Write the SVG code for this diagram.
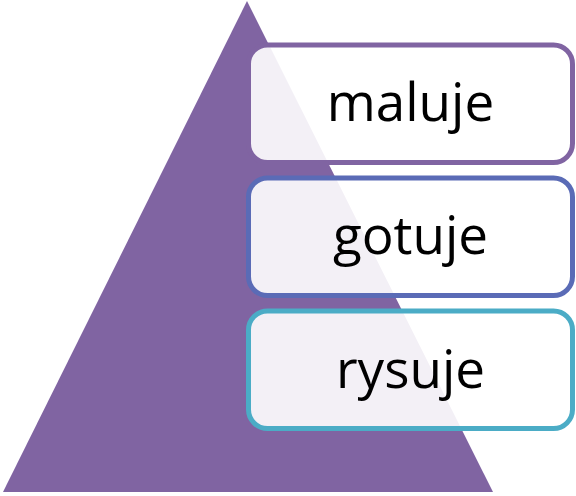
<svg xmlns="http://www.w3.org/2000/svg" width="576" height="496" viewBox="0 0 576 496">
<style>
.box{fill:#ffffff;fill-opacity:0.9;stroke-width:5}
.lbl{font-family:"Open Sans","Noto Sans","Liberation Sans",sans-serif;font-size:53px;fill:#000000;text-anchor:middle}
</style>
<rect width="576" height="496" fill="#ffffff"/>
<g id="pyramid">
<polygon points="247,1 3,492 493,492" fill="#8064A2"/>
</g>
<g id="connectors"></g>
<g id="node-maluje">
<rect class="box" x="248.5" y="45" width="324" height="117.5" rx="19" stroke="#8064A2"/>
<text class="lbl" x="410.5" y="121">maluje</text>
</g>
<g id="node-gotuje">
<rect class="box" x="248.5" y="178" width="324" height="117.5" rx="19" stroke="#5A6BB6"/>
<text class="lbl" x="410.5" y="254">gotuje</text>
</g>
<g id="node-rysuje">
<rect class="box" x="248.5" y="311" width="324" height="117.5" rx="19" stroke="#4BACC6"/>
<text class="lbl" x="410.5" y="387.5">rysuje</text>
</g>
</svg>
